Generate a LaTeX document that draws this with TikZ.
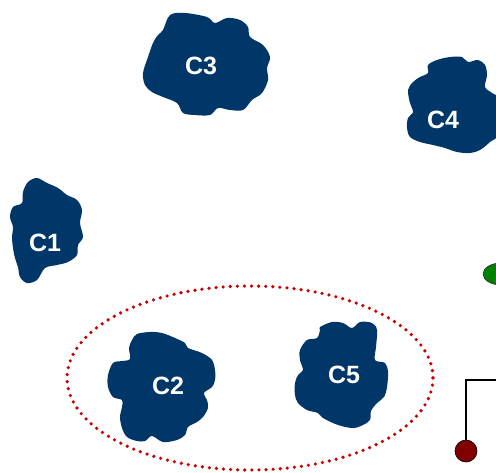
\documentclass[tikz,border=0pt]{standalone}
\usepackage{fontspec}
\setmainfont{Liberation Sans}
\usepackage{tikz}
\usetikzlibrary{positioning,shapes.geometric}

\definecolor{blobblue}{RGB}{0,54,104}
\definecolor{clusterred}{RGB}{200,0,0}
\definecolor{pinred}{RGB}{128,0,0}
\definecolor{leafgreen}{RGB}{0,128,0}

\begin{document}
\begin{tikzpicture}[
  x=1pt, y=-1pt,
  blob/.style={fill=blobblue, draw=none},
  lbl/.style={text=white, font=\fontsize{25}{29}\selectfont\bfseries, inner sep=0pt},
  cluster/.style={draw=clusterred, line width=3.6pt, line cap=round, dash pattern=on 0pt off 7.1pt},
  pin/.style={circle, draw=black, line width=0.6pt, fill=pinred, minimum size=22pt, inner sep=0pt},
  leaf/.style={ellipse, draw=black!80, line width=0.6pt, fill=leafgreen, minimum width=36pt, minimum height=22pt, inner sep=0pt},
  wire/.style={draw=black, line width=2pt}
]
\useasboundingbox (0,0) rectangle (496,472);

% --- Cluster outline round C2 and C5 ---
\draw[cluster] (250,378) ellipse [x radius=183, y radius=92];

% --- Blobs ---
\fill[blob] plot[smooth cycle, tension=0.55] coordinates {
  (163,30) (170,15) (185,13) (207,17) (215,23) (227,18) (240,20) (248,27)
  (250,37) (263,45) (270,57) (267,68) (268,80) (262,93) (252,100) (243,110)
  (230,110) (218,108) (210,115) (195,115) (183,113) (177,103) (163,97)
  (152,92) (145,85) (143,73) (148,57) (153,43) (158,35)};
\node[lbl] (c3) at (201,66) {C3};

\fill[blob] plot[smooth cycle, tension=0.55] coordinates {
  (428,65) (437,60) (450,57) (462,57) (468,62) (478,60) (485,65) (487,75)
  (485,87) (492,93) (499,100) (499,133) (490,142) (480,150) (470,153)
  (457,152) (445,148) (433,145) (420,142) (410,137) (407,128) (408,118)
  (413,112) (410,103) (408,90) (413,82) (420,77) (428,73)};
\node[lbl] (c4) at (443,120) {C4};

\fill[blob] plot[smooth cycle, tension=0.55] coordinates {
  (28,182) (37,178) (47,183) (58,188) (67,195) (77,200) (82,210) (80,223)
  (83,237) (78,245) (77,255) (68,262) (57,265) (45,268) (37,280) (27,283)
  (20,277) (18,267) (15,258) (13,248) (12,237) (13,227) (10,217) (13,207)
  (22,203) (23,192)};
\node[lbl] (c1) at (45,243) {C1};

\fill[blob] plot[smooth cycle, tension=0.55] coordinates {
  (132,340) (137,334) (150,332) (162,333) (175,338) (185,343) (188,348)
  (202,353) (212,360) (215,370) (215,380) (212,387) (204,393) (207,400)
  (208,408) (203,417) (197,422) (188,427) (185,435) (177,440) (163,442)
  (152,436) (145,441) (137,441) (127,437) (122,428) (120,417) (122,407)
  (122,400) (113,397) (108,387) (108,375) (113,363) (122,361) (130,359)
  (129,348)};
\node[lbl] (c2) at (168,386) {C2};

\fill[blob] plot[smooth cycle, tension=0.55] coordinates {
  (320,327) (332,322) (343,323) (352,328) (360,322) (372,323) (377,330)
  (376,347) (375,360) (385,363) (388,372) (387,387) (384,397) (377,403)
  (371,411) (370,420) (363,425) (353,428) (338,425) (323,418) (318,413)
  (307,410) (298,403) (295,395) (295,383) (298,375) (303,370) (300,360)
  (300,350) (307,340) (317,338) (320,330)};
\node[lbl] (c5) at (344,375) {C5};

% --- Right edge marks ---
\node[leaf] (leaf) at (501,274) {};
\node[pin] (pin) at (466,451) {};
\coordinate (wireend) at (500,380);
\draw[wire] (pin.north) |- (wireend);

\end{tikzpicture}
\end{document}
